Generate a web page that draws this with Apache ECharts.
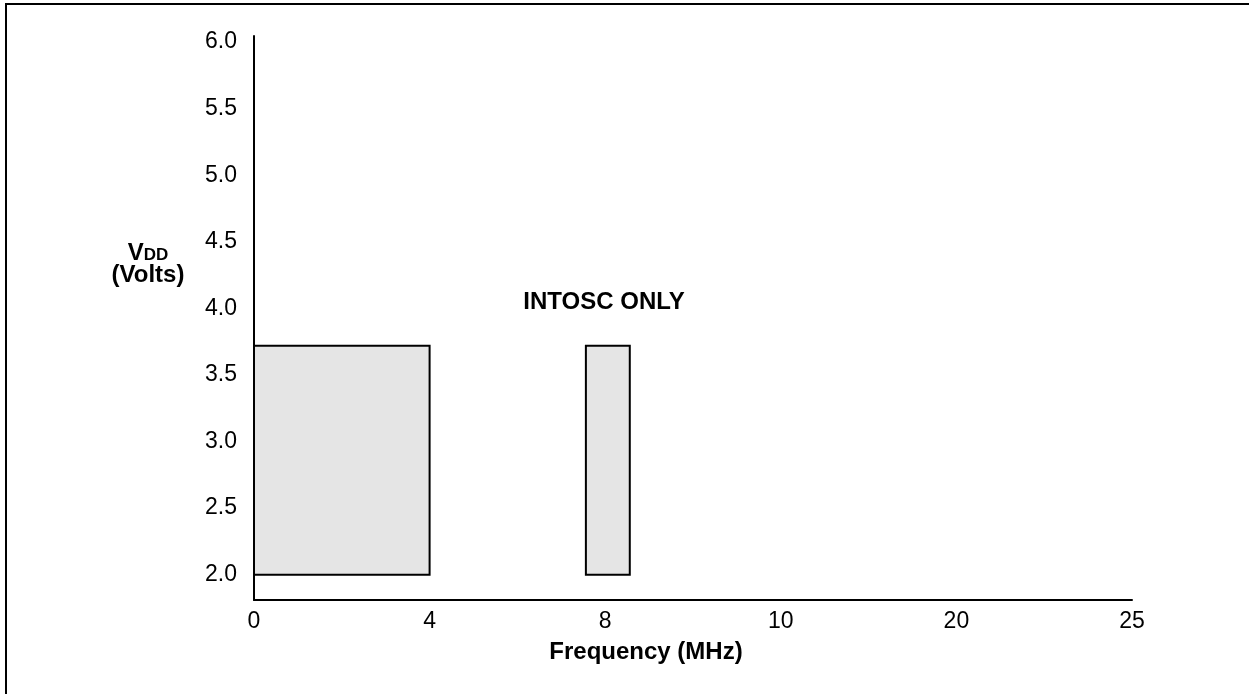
<!DOCTYPE html>
<html>
<head>
<meta charset="utf-8">
<script src="https://cdn.jsdelivr.net/npm/echarts@6/dist/echarts.min.js"></script>
<style>
html,body{margin:0;padding:0;background:#fff;}
#chart{width:1249px;height:694px;}
</style>
</head>
<body>
<div id="chart"></div>
<script>
// Tick labels of the (piecewise) frequency axis, equally spaced
const freqTicks = [0, 4, 8, 10, 20, 25];
// Voltage tick labels
const vddTicks = [2.0, 2.5, 3.0, 3.5, 4.0, 4.5, 5.0, 5.5, 6.0];
// Operating regions: [freqStart, freqEnd, vddLow, vddHigh]
const regionNames = ['main', 'intosc'];
const regionFreqStart = [0, 7.56];
const regionFreqEnd = [4, 8.28];
const regionVddLow = [2.0, 2.0];
const regionVddHigh = [3.72, 3.72];

// map frequency to the equally spaced tick index space
function freqToAxis(f) {
  for (let i = 0; i < freqTicks.length - 1; i++) {
    const a = freqTicks[i], b = freqTicks[i + 1];
    if (f <= b || i === freqTicks.length - 2) {
      return i + (f - a) / (b - a);
    }
  }
  return 0;
}

const rectData = regionNames.map((n, i) => [
  freqToAxis(regionFreqStart[i]), freqToAxis(regionFreqEnd[i]),
  regionVddLow[i], regionVddHigh[i]
]);

const chart = echarts.init(document.getElementById('chart'));
const font = 'Liberation Sans, Arial, sans-serif';
chart.setOption({
  animation: false,
  backgroundColor: '#fff',
  grid: { left: 254, right: 117, top: 36, bottom: 94, containLabel: false },
  xAxis: {
    type: 'value', min: 0, max: freqTicks.length - 1, interval: 1,
    axisLine: { show: true, lineStyle: { color: '#000', width: 2 } },
    axisTick: { show: false },
    splitLine: { show: false },
    axisLabel: {
      color: '#000', fontSize: 23, fontFamily: font, margin: 10,
      formatter: v => String(freqTicks[Math.round(v)])
    }
  },
  yAxis: {
    type: 'value', min: 1.81, max: 6.045,
    axisLine: { show: true, lineStyle: { color: '#000', width: 2 } },
    axisTick: { show: false },
    splitLine: { show: false },
    axisLabel: {
      color: '#000', fontSize: 23, fontFamily: font, margin: 17,
      customValues: vddTicks,
      formatter: v => Number(v).toFixed(1)
    }
  },
  series: [{
    type: 'custom',
    data: rectData,
    renderItem: function (params, api) {
      const p0 = api.coord([api.value(0), api.value(3)]);
      const p1 = api.coord([api.value(1), api.value(2)]);
      return {
        type: 'rect',
        shape: { x: p0[0], y: p0[1], width: p1[0] - p0[0], height: p1[1] - p0[1] },
        style: { fill: '#e5e5e5', stroke: '#000', lineWidth: 2 }
      };
    },
    encode: { x: [0, 1], y: [2, 3] }
  }],
  graphic: [
    { type: 'line', shape: { x1: 6, y1: 4, x2: 6, y2: 694 }, style: { stroke: '#000', lineWidth: 2 } },
    { type: 'line', shape: { x1: 5, y1: 4, x2: 1249, y2: 4 }, style: { stroke: '#000', lineWidth: 2 } },
    { type: 'text', x: 604, y: 302, style: { text: 'INTOSC ONLY', font: 'bold 24px ' + font, fill: '#000', align: 'center', verticalAlign: 'middle' } },
    { type: 'text', x: 646, y: 652, style: { text: 'Frequency (MHz)', font: 'bold 24px ' + font, fill: '#000', align: 'center', verticalAlign: 'middle' } },
    { type: 'text', x: 148, y: 253, style: {
        text: '{v|V}{d|DD}', align: 'center', verticalAlign: 'middle',
        rich: { v: { font: 'bold 24px ' + font, fill: '#000' }, d: { font: 'bold 17px ' + font, fill: '#000', padding: [5, 0, 0, 0] } }
    } },
    { type: 'text', x: 148, y: 275, style: { text: '(Volts)', font: 'bold 24px ' + font, fill: '#000', align: 'center', verticalAlign: 'middle' } }
  ]
});
</script>
</body>
</html>
